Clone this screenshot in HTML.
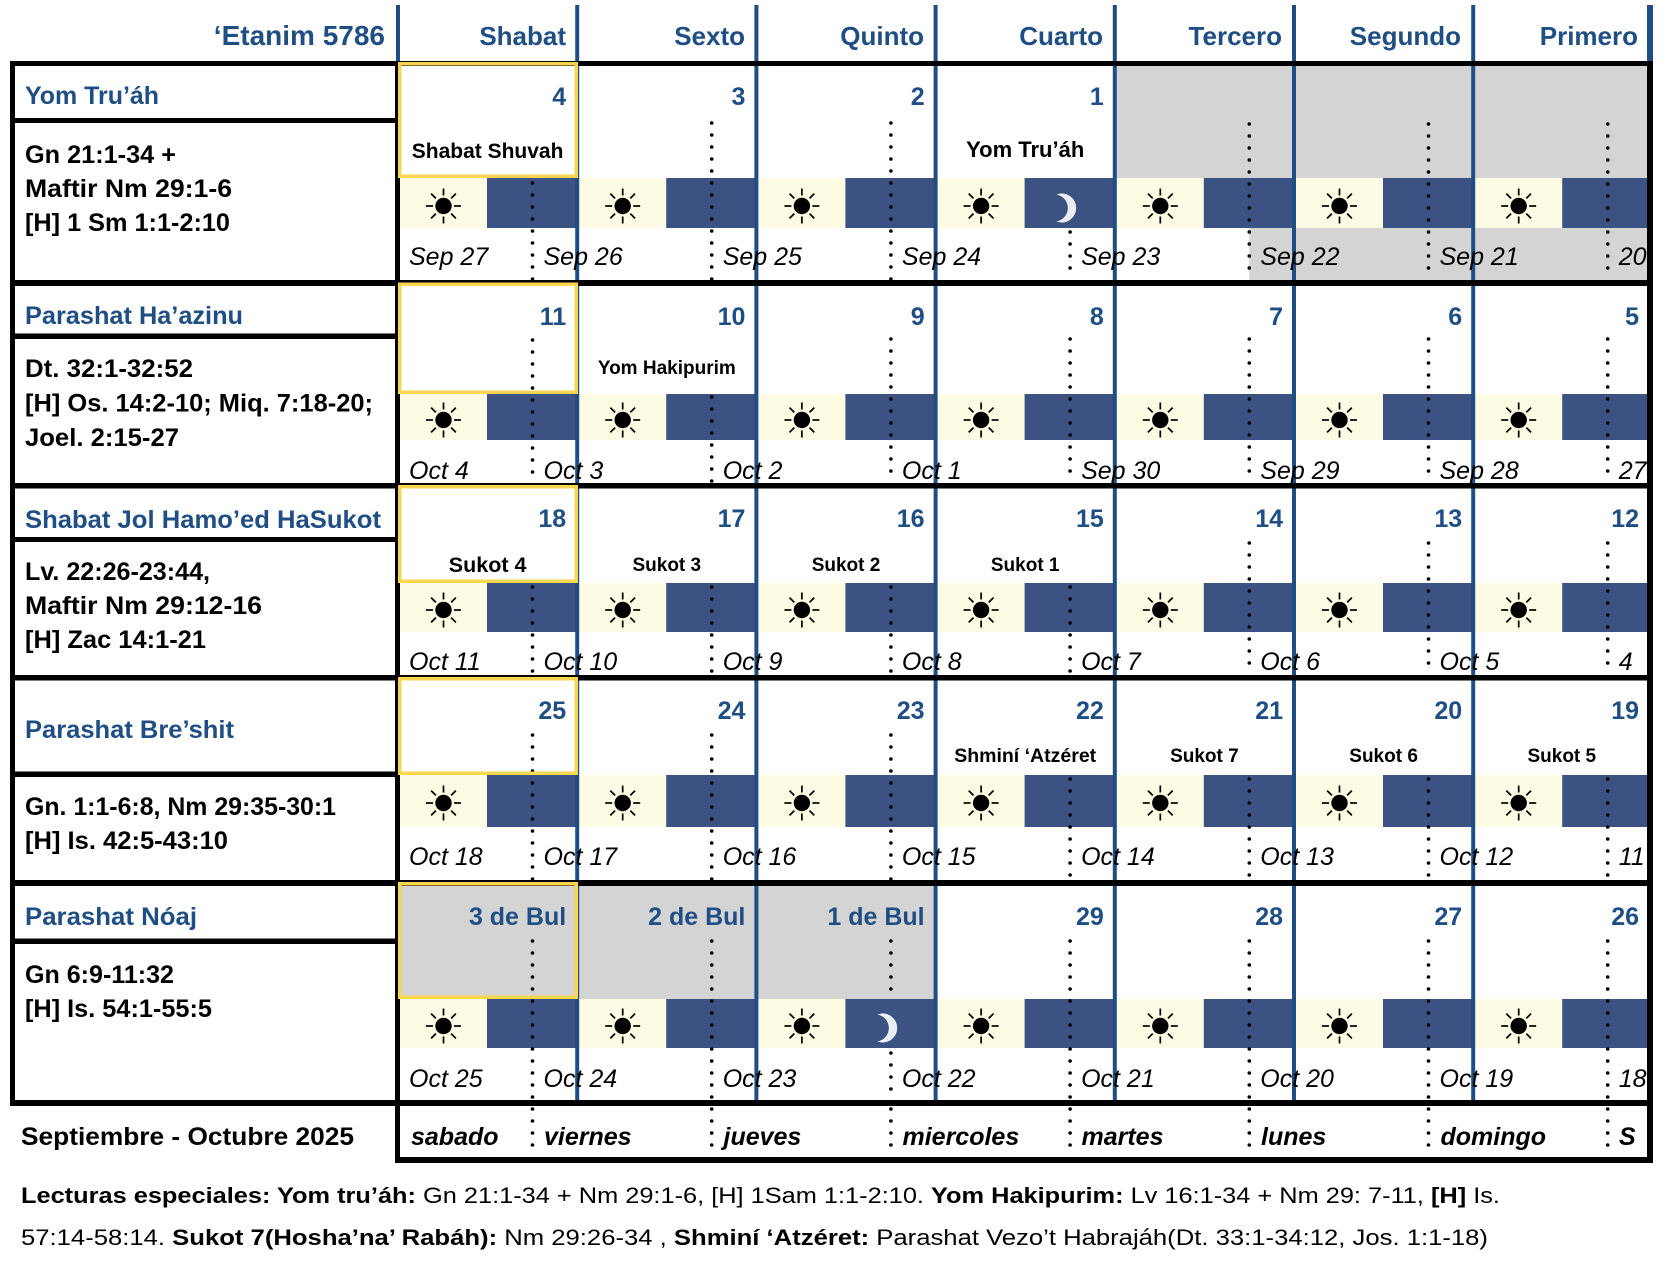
<!DOCTYPE html>
<html><head><meta charset="utf-8">
<style>
html,body{margin:0;padding:0;background:#fff;width:1670px;height:1274px;overflow:hidden}
svg{display:block}
text{font-family:"Liberation Sans",sans-serif}
</style></head>
<body>
<svg width="1670" height="1274" viewBox="0 0 1670 1274" xmlns="http://www.w3.org/2000/svg">
<defs>
<g id="sun"><circle r="8.2" fill="#000"/><g stroke="#000" stroke-width="1.7"><line x1="10.5" y1="0" x2="17.5" y2="0"/><line x1="-10.5" y1="0" x2="-17.5" y2="0"/><line x1="0" y1="10.5" x2="0" y2="17.5"/><line x1="0" y1="-10.5" x2="0" y2="-17.5"/><line x1="7.6" y1="7.6" x2="12.4" y2="12.4"/><line x1="-7.6" y1="7.6" x2="-12.4" y2="12.4"/><line x1="7.6" y1="-7.6" x2="12.4" y2="-12.4"/><line x1="-7.6" y1="-7.6" x2="-12.4" y2="-12.4"/></g></g>
<path id="moon" d="M -7 -13.5 A 14 14 0 1 1 -7 13.5 A 14 14 0 0 0 -7 -13.5 Z" fill="#e9ecf6" stroke="#ffffff" stroke-width="0.8"/>
<g id="bandrow">
<g fill="#fdfbe3"><rect x="398" y="0" width="89" height="1"/><rect x="577.2" y="0" width="89" height="1"/><rect x="756.4" y="0" width="89" height="1"/><rect x="935.6" y="0" width="89" height="1"/><rect x="1114.8" y="0" width="89" height="1"/><rect x="1294" y="0" width="89" height="1"/><rect x="1473.2" y="0" width="89" height="1"/></g>
<g fill="#3b5282"><rect x="487" y="0" width="90.2" height="1"/><rect x="666.2" y="0" width="90.2" height="1"/><rect x="845.4" y="0" width="90.2" height="1"/><rect x="1024.6" y="0" width="90.2" height="1"/><rect x="1203.8" y="0" width="90.2" height="1"/><rect x="1383" y="0" width="90.2" height="1"/><rect x="1562.2" y="0" width="87.8" height="1"/></g>
</g>
</defs>

<rect x="0" y="0" width="1670" height="1274" fill="#fff"/>

<!-- gray areas -->
<g fill="#d4d4d4">
<rect x="1114.8" y="66" width="532.2" height="112"/>
<rect x="1249.3" y="228" width="397.7" height="52"/>
<rect x="400" y="886" width="535.6" height="113"/>
</g>

<!-- bands -->
<use href="#bandrow" transform="translate(0,178) scale(1,50)"/>
<use href="#bandrow" transform="translate(0,394) scale(1,46)"/>
<use href="#bandrow" transform="translate(0,583) scale(1,49)"/>
<use href="#bandrow" transform="translate(0,775) scale(1,52)"/>
<use href="#bandrow" transform="translate(0,999) scale(1,49)"/>

<!-- blue column lines -->
<g fill="#1f4e84">
<rect x="396" y="5" width="4" height="56"/>
<rect x="1647" y="5" width="6" height="56"/>
<rect x="575.2" y="5" width="4" height="1097"/>
<rect x="754.4" y="5" width="4" height="1097"/>
<rect x="933.6" y="5" width="4" height="1097"/>
<rect x="1112.8" y="5" width="4" height="1097"/>
<rect x="1292" y="5" width="4" height="1097"/>
<rect x="1471.2" y="5" width="4" height="1097"/>
</g>

<!-- dotted midnight lines -->
<g stroke="#000" stroke-width="3.6" stroke-linecap="round" stroke-dasharray="0 12" fill="none">
<line x1="532.5" y1="183" x2="532.5" y2="280"/>
<line x1="711.7" y1="123" x2="711.7" y2="280"/>
<line x1="890.9" y1="123" x2="890.9" y2="280"/>
<line x1="1070.1" y1="232" x2="1070.1" y2="280"/>
<line x1="1249.3" y1="124" x2="1249.3" y2="280"/>
<line x1="1428.5" y1="124" x2="1428.5" y2="280"/>
<line x1="1607.7" y1="124" x2="1607.7" y2="280"/>

<line x1="532.5" y1="340" x2="532.5" y2="483"/>
<line x1="711.7" y1="397" x2="711.7" y2="483"/>
<line x1="890.9" y1="339" x2="890.9" y2="483"/>
<line x1="1070.1" y1="339" x2="1070.1" y2="483"/>
<line x1="1249.3" y1="339" x2="1249.3" y2="483"/>
<line x1="1428.5" y1="339" x2="1428.5" y2="483"/>
<line x1="1607.7" y1="339" x2="1607.7" y2="483"/>

<line x1="532.5" y1="587" x2="532.5" y2="675"/>
<line x1="711.7" y1="587" x2="711.7" y2="675"/>
<line x1="890.9" y1="587" x2="890.9" y2="675"/>
<line x1="1070.1" y1="587" x2="1070.1" y2="675"/>
<line x1="1249.3" y1="543" x2="1249.3" y2="675"/>
<line x1="1428.5" y1="543" x2="1428.5" y2="675"/>
<line x1="1607.7" y1="543" x2="1607.7" y2="675"/>

<line x1="532.5" y1="735" x2="532.5" y2="880"/>
<line x1="711.7" y1="735" x2="711.7" y2="880"/>
<line x1="890.9" y1="735" x2="890.9" y2="880"/>
<line x1="1070.1" y1="779" x2="1070.1" y2="880"/>
<line x1="1249.3" y1="779" x2="1249.3" y2="880"/>
<line x1="1428.5" y1="779" x2="1428.5" y2="880"/>
<line x1="1607.7" y1="779" x2="1607.7" y2="880"/>

<line x1="532.5" y1="941" x2="532.5" y2="1100"/>
<line x1="711.7" y1="941" x2="711.7" y2="1100"/>
<line x1="890.9" y1="941" x2="890.9" y2="995"/>
<line x1="890.9" y1="1053" x2="890.9" y2="1100"/>
<line x1="1070.1" y1="941" x2="1070.1" y2="1100"/>
<line x1="1249.3" y1="941" x2="1249.3" y2="1100"/>
<line x1="1428.5" y1="941" x2="1428.5" y2="1100"/>
<line x1="1607.7" y1="941" x2="1607.7" y2="1100"/>

<line x1="532.5" y1="1109" x2="532.5" y2="1157"/>
<line x1="711.7" y1="1109" x2="711.7" y2="1157"/>
<line x1="890.9" y1="1109" x2="890.9" y2="1157"/>
<line x1="1070.1" y1="1109" x2="1070.1" y2="1157"/>
<line x1="1249.3" y1="1109" x2="1249.3" y2="1157"/>
<line x1="1428.5" y1="1109" x2="1428.5" y2="1157"/>
<line x1="1607.7" y1="1109" x2="1607.7" y2="1157"/>
</g>

<!-- black structure lines -->
<g fill="#000">
<rect x="10" y="61" width="1643" height="5"/>
<rect x="10" y="280" width="1643" height="6"/>
<rect x="10" y="483" width="1643" height="5.5"/>
<rect x="10" y="675" width="1643" height="5.5"/>
<rect x="10" y="880" width="1643" height="6"/>
<rect x="10" y="1100" width="1643" height="6"/>
<rect x="10" y="61" width="5" height="1045"/>
<rect x="1647" y="61" width="6" height="1102"/>
<rect x="395" y="61" width="5" height="1102"/>
<rect x="395" y="1157" width="1258" height="6"/>
<rect x="10" y="118" width="390" height="5"/>
<rect x="10" y="333.5" width="390" height="5.5"/>
<rect x="10" y="537" width="390" height="5"/>
<rect x="10" y="771.5" width="390" height="5.5"/>
<rect x="10" y="938.5" width="390" height="5.5"/>
</g>

<!-- yellow Shabat boxes -->
<g fill="none" stroke="#f9d64f" stroke-width="3.5">
<rect x="399.75" y="63.75" width="176.5" height="112.5"/>
<rect x="399.75" y="284.25" width="176.5" height="108"/>
<rect x="399.75" y="486.75" width="176.5" height="94.5"/>
<rect x="399.75" y="678.75" width="176.5" height="94.5"/>
<rect x="399.75" y="883.75" width="176.5" height="113.5"/>
</g>

<!-- suns -->
<use href="#sun" x="443.5" y="206"/><use href="#sun" x="622.7" y="206"/><use href="#sun" x="801.9" y="206"/><use href="#sun" x="981.1" y="206"/><use href="#sun" x="1160.3" y="206"/><use href="#sun" x="1339.5" y="206"/><use href="#sun" x="1518.7" y="206"/>
<use href="#sun" x="443.5" y="420"/><use href="#sun" x="622.7" y="420"/><use href="#sun" x="801.9" y="420"/><use href="#sun" x="981.1" y="420"/><use href="#sun" x="1160.3" y="420"/><use href="#sun" x="1339.5" y="420"/><use href="#sun" x="1518.7" y="420"/>
<use href="#sun" x="443.5" y="610"/><use href="#sun" x="622.7" y="610"/><use href="#sun" x="801.9" y="610"/><use href="#sun" x="981.1" y="610"/><use href="#sun" x="1160.3" y="610"/><use href="#sun" x="1339.5" y="610"/><use href="#sun" x="1518.7" y="610"/>
<use href="#sun" x="443.5" y="803"/><use href="#sun" x="622.7" y="803"/><use href="#sun" x="801.9" y="803"/><use href="#sun" x="981.1" y="803"/><use href="#sun" x="1160.3" y="803"/><use href="#sun" x="1339.5" y="803"/><use href="#sun" x="1518.7" y="803"/>
<use href="#sun" x="443.5" y="1026"/><use href="#sun" x="622.7" y="1026"/><use href="#sun" x="801.9" y="1026"/><use href="#sun" x="981.1" y="1026"/><use href="#sun" x="1160.3" y="1026"/><use href="#sun" x="1339.5" y="1026"/><use href="#sun" x="1518.7" y="1026"/>

<!-- moons -->
<use href="#moon" x="1065" y="208"/>
<use href="#moon" x="886" y="1028"/>

<!-- header -->
<g font-weight="bold" fill="#1f4e84" text-anchor="end">
<text x="385" y="45" font-size="28">‘Etanim 5786</text>
<text x="566" y="45" font-size="26">Shabat</text>
<text x="745" y="45" font-size="26">Sexto</text>
<text x="924" y="45" font-size="26">Quinto</text>
<text x="1103" y="45" font-size="26">Cuarto</text>
<text x="1282" y="45" font-size="26">Tercero</text>
<text x="1461" y="45" font-size="26">Segundo</text>
<text x="1638" y="45" font-size="26">Primero</text>
</g>

<!-- left column titles -->
<g font-weight="bold" fill="#1f4e84" font-size="25">
<text x="25" y="104" textLength="134" lengthAdjust="spacingAndGlyphs">Yom Tru’áh</text>
<text x="25" y="324" textLength="218" lengthAdjust="spacingAndGlyphs">Parashat Ha’azinu</text>
<text x="25" y="528" textLength="356" lengthAdjust="spacingAndGlyphs">Shabat Jol Hamo’ed HaSukot</text>
<text x="25" y="738" textLength="209" lengthAdjust="spacingAndGlyphs">Parashat Bre’shit</text>
<text x="25" y="925" textLength="172" lengthAdjust="spacingAndGlyphs">Parashat Nóaj</text>
</g>

<!-- readings -->
<g font-weight="bold" fill="#000" font-size="25">
<text x="25" y="163" textLength="151" lengthAdjust="spacingAndGlyphs">Gn 21:1-34 +</text>
<text x="25" y="197" textLength="207" lengthAdjust="spacingAndGlyphs">Maftir Nm 29:1-6</text>
<text x="25" y="231" textLength="205" lengthAdjust="spacingAndGlyphs">[H] 1 Sm 1:1-2:10</text>
<text x="25" y="377" textLength="168" lengthAdjust="spacingAndGlyphs">Dt. 32:1-32:52</text>
<text x="25" y="411.5" textLength="348" lengthAdjust="spacingAndGlyphs">[H] Os. 14:2-10; Miq. 7:18-20;</text>
<text x="25" y="446" textLength="154" lengthAdjust="spacingAndGlyphs">Joel. 2:15-27</text>
<text x="25" y="580" textLength="185" lengthAdjust="spacingAndGlyphs">Lv. 22:26-23:44,</text>
<text x="25" y="614" textLength="237" lengthAdjust="spacingAndGlyphs">Maftir Nm 29:12-16</text>
<text x="25" y="648" textLength="181" lengthAdjust="spacingAndGlyphs">[H] Zac 14:1-21</text>
<text x="25" y="815" textLength="311" lengthAdjust="spacingAndGlyphs">Gn. 1:1-6:8, Nm 29:35-30:1</text>
<text x="25" y="849" textLength="203" lengthAdjust="spacingAndGlyphs">[H] Is. 42:5-43:10</text>
<text x="25" y="983" textLength="149" lengthAdjust="spacingAndGlyphs">Gn 6:9-11:32</text>
<text x="25" y="1017" textLength="187" lengthAdjust="spacingAndGlyphs">[H] Is. 54:1-55:5</text>
</g>

<!-- day numbers -->
<g font-weight="bold" fill="#1f4e84" font-size="25" text-anchor="end">
<text x="566.2" y="105">4</text><text x="745.4" y="105">3</text><text x="924.6" y="105">2</text><text x="1103.8" y="105">1</text>
<text x="566.2" y="325">11</text><text x="745.4" y="325">10</text><text x="924.6" y="325">9</text><text x="1103.8" y="325">8</text><text x="1283" y="325">7</text><text x="1462.2" y="325">6</text><text x="1639" y="325">5</text>
<text x="566.2" y="527">18</text><text x="745.4" y="527">17</text><text x="924.6" y="527">16</text><text x="1103.8" y="527">15</text><text x="1283" y="527">14</text><text x="1462.2" y="527">13</text><text x="1639" y="527">12</text>
<text x="566.2" y="719">25</text><text x="745.4" y="719">24</text><text x="924.6" y="719">23</text><text x="1103.8" y="719">22</text><text x="1283" y="719">21</text><text x="1462.2" y="719">20</text><text x="1639" y="719">19</text>
<text x="566.2" y="925">3 de Bul</text><text x="745.4" y="925">2 de Bul</text><text x="924.6" y="925">1 de Bul</text><text x="1103.8" y="925">29</text><text x="1283" y="925">28</text><text x="1462.2" y="925">27</text><text x="1639" y="925">26</text>
</g>

<!-- event labels -->
<g font-weight="bold" fill="#000" text-anchor="middle">
<text x="487.6" y="158" font-size="21">Shabat Shuvah</text>
<text x="1025.2" y="157" font-size="22">Yom Tru’áh</text>
<text x="666.8" y="374" font-size="19">Yom Hakipurim</text>
<text x="487.6" y="572" font-size="21.5">Sukot 4</text>
<text x="666.8" y="571" font-size="19">Sukot 3</text>
<text x="846" y="571" font-size="19">Sukot 2</text>
<text x="1025.2" y="571" font-size="19">Sukot 1</text>
<text x="1025.2" y="762" font-size="19.5">Shminí ‘Atzéret</text>
<text x="1204.4" y="762" font-size="19">Sukot 7</text>
<text x="1383.6" y="762" font-size="19">Sukot 6</text>
<text x="1561.8" y="762" font-size="19">Sukot 5</text>
</g>

<!-- dates -->
<g font-style="italic" fill="#000" font-size="25">
<text x="409" y="265">Sep 27</text><text x="543.5" y="265">Sep 26</text><text x="722.7" y="265">Sep 25</text><text x="901.9" y="265">Sep 24</text><text x="1081.1" y="265">Sep 23</text><text x="1260.3" y="265">Sep 22</text><text x="1439.5" y="265">Sep 21</text><text x="1618.7" y="265">20</text>
<text x="409" y="479">Oct 4</text><text x="543.5" y="479">Oct 3</text><text x="722.7" y="479">Oct 2</text><text x="901.9" y="479">Oct 1</text><text x="1081.1" y="479">Sep 30</text><text x="1260.3" y="479">Sep 29</text><text x="1439.5" y="479">Sep 28</text><text x="1618.7" y="479">27</text>
<text x="409" y="670">Oct 11</text><text x="543.5" y="670">Oct 10</text><text x="722.7" y="670">Oct 9</text><text x="901.9" y="670">Oct 8</text><text x="1081.1" y="670">Oct 7</text><text x="1260.3" y="670">Oct 6</text><text x="1439.5" y="670">Oct 5</text><text x="1618.7" y="670">4</text>
<text x="409" y="865">Oct 18</text><text x="543.5" y="865">Oct 17</text><text x="722.7" y="865">Oct 16</text><text x="901.9" y="865">Oct 15</text><text x="1081.1" y="865">Oct 14</text><text x="1260.3" y="865">Oct 13</text><text x="1439.5" y="865">Oct 12</text><text x="1618.7" y="865">11</text>
<text x="409" y="1087">Oct 25</text><text x="543.5" y="1087">Oct 24</text><text x="722.7" y="1087">Oct 23</text><text x="901.9" y="1087">Oct 22</text><text x="1081.1" y="1087">Oct 21</text><text x="1260.3" y="1087">Oct 20</text><text x="1439.5" y="1087">Oct 19</text><text x="1618.7" y="1087">18</text>
</g>

<!-- weekdays -->
<g font-style="italic" font-weight="bold" fill="#000" font-size="25">
<text x="411" y="1145">sabado</text><text x="544" y="1145">viernes</text><text x="723.5" y="1145">jueves</text><text x="902.5" y="1145">miercoles</text><text x="1081.5" y="1145">martes</text><text x="1261" y="1145">lunes</text><text x="1440.5" y="1145">domingo</text><text x="1619" y="1145">S</text>
</g>

<text x="21" y="1145" font-weight="bold" font-size="25" fill="#000" textLength="333" lengthAdjust="spacingAndGlyphs">Septiembre - Octubre 2025</text>

<!-- footer notes -->
<text x="21" y="1203" font-size="22.5" fill="#000" textLength="1479" lengthAdjust="spacingAndGlyphs"><tspan font-weight="bold">Lecturas especiales: Yom tru’áh:</tspan> Gn 21:1-34 + Nm 29:1-6, [H] 1Sam 1:1-2:10. <tspan font-weight="bold">Yom Hakipurim:</tspan> Lv 16:1-34 + Nm 29: 7-11, <tspan font-weight="bold">[H]</tspan> Is.</text>
<text x="21" y="1245" font-size="22.5" fill="#000" textLength="1467" lengthAdjust="spacingAndGlyphs">57:14-58:14. <tspan font-weight="bold">Sukot 7(Hosha’na’ Rabáh):</tspan> Nm 29:26-34 , <tspan font-weight="bold">Shminí ‘Atzéret:</tspan> Parashat Vezo’t Habrajáh(Dt. 33:1-34:12, Jos. 1:1-18)</text>

</svg>
</body></html>
